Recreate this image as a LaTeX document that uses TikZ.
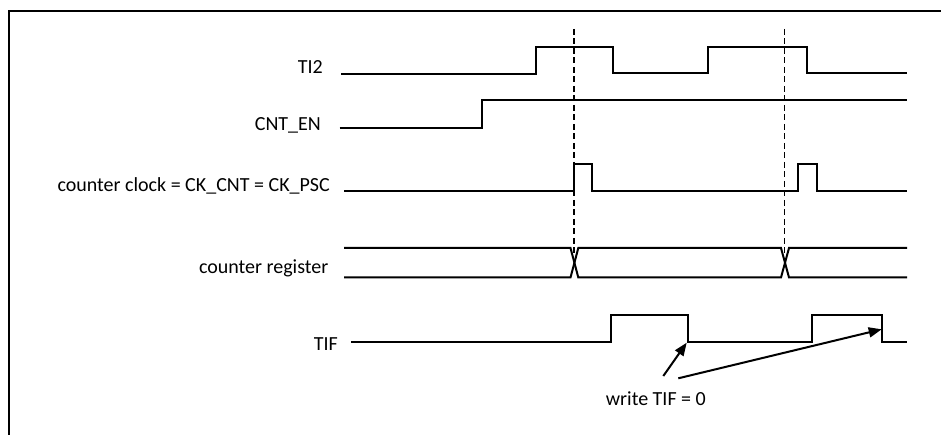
\documentclass[tikz,border=0pt]{standalone}
\usepackage{fontspec}
\setmainfont{Carlito}
\usetikzlibrary{arrows.meta}
\begin{document}
\begin{tikzpicture}[x=1pt,y=-1pt,
  sig/.style={line width=2pt, line join=miter},
  guide/.style={line width=1.7pt, dash pattern=on 6pt off 3.5pt},
  lbl/.style={font=\fontsize{20}{24}\selectfont, inner sep=0pt, anchor=base east},
  note/.style={line width=2pt, -{Triangle[length=13pt,width=10pt]}}]
\useasboundingbox (0,0) rectangle (941,435);
\draw[line width=2pt] (9,435) -- (9,11.5) -- (941,11.5);
% labels
\node[lbl] (ti2) at (323,74) {TI2};
\node[lbl] (cnten) at (321,131) {CNT\_EN};
\node[lbl] (clk) at (330,191.5) {counter clock = CK\_CNT = CK\_PSC};
\node[lbl] (reg) at (328.5,274) {counter register};
\node[lbl] (tif) at (338,350) {TIF};
\node[font=\fontsize{20}{24}\selectfont, inner sep=0pt, anchor=base west] (wr) at (605.7,405) {write TIF = 0};
% guides
\draw[guide] (574.3,29) -- (574.3,256);
\draw[guide] (784.5,29) -- (784.5,256);
% waveforms
\draw[sig] (341,74) -- (536,74) -- (536,46.7) -- (612.5,46.7) -- (612.5,73.5) -- (707.7,73.5) -- (707.7,46.7) -- (807.3,46.7) -- (807.3,73.5) -- (907,73.5);
\draw[sig] (339.5,127.7) -- (481.7,127.7) -- (481.7,100) -- (907,100);
\draw[sig] (344,191.5) -- (574.3,191.5) -- (574.3,164) -- (592.3,164) -- (592.3,191.5) -- (797.7,191.5) -- (797.7,164) -- (816.7,164) -- (816.7,191.5) -- (907,191.5);
\draw[sig] (344,248) -- (570.5,248) -- (578.3,277.5) -- (781,277.5) -- (789,248) -- (907,248);
\draw[sig] (344,277.5) -- (570.5,277.5) -- (578.3,248) -- (781,248) -- (789,277.5) -- (907,277.5);
\draw[sig] (351,341.7) -- (611,341.7) -- (611,315) -- (687.7,315) -- (687.7,341.7) -- (812.3,341.7) -- (812.3,315) -- (882.3,315) -- (882.3,341.7) -- (907,341.7);
% arrows
\coordinate (a1s) at (663.3,376);
\coordinate (a1e) at (686.7,342.7);
\coordinate (a2s) at (678.3,378.3);
\coordinate (a2e) at (881.7,329.3);
\draw[note] (a1s) -- (a1e);
\draw[note] (a2s) -- (a2e);
\end{tikzpicture}
\end{document}
